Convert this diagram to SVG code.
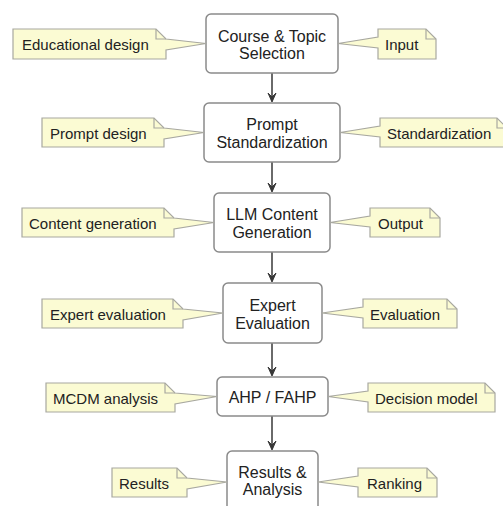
<svg xmlns="http://www.w3.org/2000/svg" width="503" height="506" viewBox="0 0 503 506">
<defs>
<style>
.node rect{fill:#ffffff;stroke:#8a8a8a;stroke-width:1.5}
.node text{font-family:"Liberation Sans",Arial,sans-serif;font-size:16px;fill:#222;text-anchor:middle}
.note path.body{fill:#fbfbd3;stroke:#a8a8a0;stroke-width:1.2;stroke-linejoin:miter}
.note path.fold{fill:none;stroke:#a8a8a0;stroke-width:1.2}
.note text{font-family:"Liberation Sans",Arial,sans-serif;font-size:15px;fill:#222}
.conn line{stroke:#383838;stroke-width:1.5}
.conn polygon{fill:#383838;stroke:#383838;stroke-width:1}
</style>
</defs>
<rect x="0" y="0" width="503" height="506" fill="#ffffff"/>

<g id="connectors" class="conn">
<line x1="272" y1="73" x2="272" y2="101"/>
<polygon points="268,93 272,102 276,93 272,97"/>
<line x1="272" y1="162" x2="272" y2="191"/>
<polygon points="268,183 272,192 276,183 272,187"/>
<line x1="272" y1="252" x2="272" y2="281"/>
<polygon points="268,273 272,282 276,273 272,277"/>
<line x1="272" y1="343" x2="272" y2="375"/>
<polygon points="268,367 272,376 276,367 272,371"/>
<line x1="272" y1="416" x2="272" y2="449"/>
<polygon points="268,441 272,450 276,441 272,445"/>
</g>

<g id="node1" class="node">
<rect x="206" y="14" width="132" height="59" rx="5"/>
<text x="272" y="42">Course &amp; Topic</text>
<text x="272" y="59">Selection</text>
</g>
<g id="node2" class="node">
<rect x="204" y="103" width="136" height="59" rx="5"/>
<text x="272" y="130">Prompt</text>
<text x="272" y="148">Standardization</text>
</g>
<g id="node3" class="node">
<rect x="214" y="193" width="116" height="59" rx="5"/>
<text x="272" y="220">LLM Content</text>
<text x="272" y="238">Generation</text>
</g>
<g id="node4" class="node">
<rect x="223" y="283" width="99" height="60" rx="5"/>
<text x="272.5" y="311">Expert</text>
<text x="272.5" y="329">Evaluation</text>
</g>
<g id="node5" class="node">
<rect x="217" y="377" width="111" height="39" rx="5"/>
<text x="272.5" y="402.5">AHP / FAHP</text>
</g>
<g id="node6" class="node">
<rect x="227" y="451" width="91" height="60" rx="5"/>
<text x="272.5" y="478">Results &amp;</text>
<text x="272.5" y="495">Analysis</text>
</g>

<!-- left notes -->
<g id="note1L" class="note">
<path class="body" d="M13,29 L156,29 L166,39 L166,39 L206,43.5 L166,50 L166,59 L13,59 Z"/>
<path class="fold" d="M156,29 L156,39 L166,39"/>
<text x="22" y="50">Educational design</text>
</g>
<g id="note1R" class="note">
<path class="body" d="M378,29 L426,29 L436,39 L436,59 L378,59 L378,48 L338,43.5 L378,37 Z"/>
<path class="fold" d="M426,29 L426,39 L436,39"/>
<text x="385" y="50">Input</text>
</g>

<g id="note2L" class="note">
<path class="body" d="M42,118 L154,118 L164,128 L204,132.5 L164,139 L164,147 L42,147 Z"/>
<path class="fold" d="M154,118 L154,128 L164,128"/>
<text x="50" y="139">Prompt design</text>
</g>
<g id="note2R" class="note">
<path class="body" d="M380,118 L497,118 L507,128 L507,147 L380,147 L380,137 L340,132.5 L380,126 Z"/>
<path class="fold" d="M497,118 L497,128 L507,128"/>
<text x="387" y="139">Standardization</text>
</g>

<g id="note3L" class="note">
<path class="body" d="M22,208 L164,208 L174,218 L214,222.5 L174,229 L174,237 L22,237 Z"/>
<path class="fold" d="M164,208 L164,218 L174,218"/>
<text x="29" y="229">Content generation</text>
</g>
<g id="note3R" class="note">
<path class="body" d="M370,208 L430,208 L440,218 L440,237 L370,237 L370,227 L330,222.5 L370,216 Z"/>
<path class="fold" d="M430,208 L430,218 L440,218"/>
<text x="378" y="229">Output</text>
</g>

<g id="note4L" class="note">
<path class="body" d="M42,299 L173,299 L183,309 L223,313 L183,320 L183,328 L42,328 Z"/>
<path class="fold" d="M173,299 L173,309 L183,309"/>
<text x="50" y="320">Expert evaluation</text>
</g>
<g id="note4R" class="note">
<path class="body" d="M363,299 L447,299 L457,309 L457,328 L363,328 L363,318 L322,313 L363,307 Z"/>
<path class="fold" d="M447,299 L447,309 L457,309"/>
<text x="370" y="320">Evaluation</text>
</g>

<g id="note5L" class="note">
<path class="body" d="M46,383 L165,383 L175,393 L217,396.5 L175,404 L175,412 L46,412 Z"/>
<path class="fold" d="M165,383 L165,393 L175,393"/>
<text x="53" y="404">MCDM analysis</text>
</g>
<g id="note5R" class="note">
<path class="body" d="M368,383 L485,383 L495,393 L495,412 L368,412 L368,402 L328,396.5 L368,391 Z"/>
<path class="fold" d="M485,383 L485,393 L495,393"/>
<text x="375" y="404">Decision model</text>
</g>

<g id="note6L" class="note">
<path class="body" d="M112,468 L177,468 L187,478 L227,482 L187,489 L187,497 L112,497 Z"/>
<path class="fold" d="M177,468 L177,478 L187,478"/>
<text x="119" y="489">Results</text>
</g>
<g id="note6R" class="note">
<path class="body" d="M358,468 L427,468 L437,478 L437,497 L358,497 L358,487 L318,482 L358,476 Z"/>
<path class="fold" d="M427,468 L427,478 L437,478"/>
<text x="367" y="489">Ranking</text>
</g>
</svg>
